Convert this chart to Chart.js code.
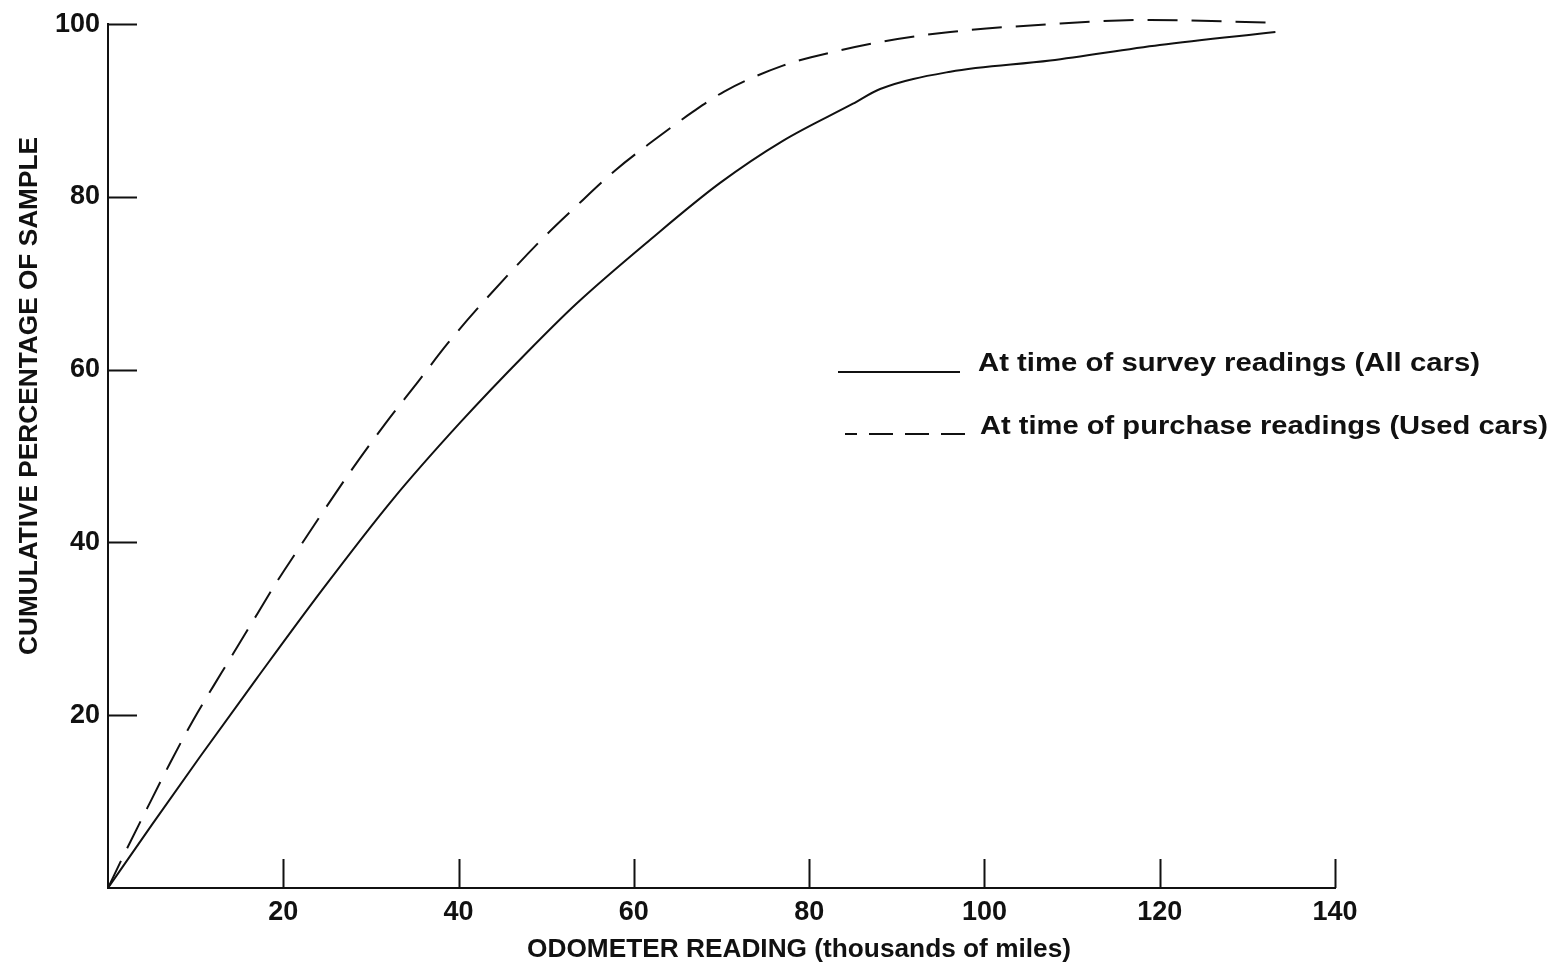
<!DOCTYPE html>
<html>
<head>
<meta charset="utf-8">
<script src="https://cdn.jsdelivr.net/npm/chart.js@4.4.0/dist/chart.umd.min.js"></script>
<style>
  html, body { margin: 0; padding: 0; background: #fff; }
  #wrap { width: 1559px; height: 968px; }
</style>
</head>
<body>
<div id="wrap"><canvas id="odoChart"></canvas></div>
<script>
// odometer reading, thousands of miles / cumulative percent
const surveyMiles = [0, 5, 10.5, 17, 24.5, 32.5, 40.2, 47.8, 53.5, 61.8, 69.8, 77.0, 85.0, 88.1, 96.1, 107.5, 120, 133.2];
const surveyPct   = [0, 7.3, 15.2, 24.3, 34.6, 45.0, 53.9, 62.0, 67.7, 75.0, 81.6, 86.5, 90.8, 92.5, 94.5, 95.8, 97.6, 99.1];

const purchaseMiles = [0, 1.7, 4.5, 7.1, 9.7, 13.0, 16.0, 19.3, 21.3, 24.5, 27.8, 31.6, 35.3, 38.8, 42.7, 49.6, 53.5, 57.9, 62.2, 66.8, 70.3, 77.0, 83.2, 88.4, 96.1, 107.5, 118.9, 132.2];
const purchasePct   = [0, 3.6, 9.3, 14.5, 19.4, 25.0, 30.0, 35.5, 38.6, 43.5, 48.4, 53.7, 58.5, 63.1, 67.7, 75.2, 79.0, 83.1, 86.5, 89.9, 92.2, 95.2, 96.9, 98.0, 99.1, 100.0, 100.5, 100.2];

const xTickValues = [20, 40, 60, 80, 100, 120, 140];
const yTickValues = [20, 40, 60, 80, 100];

const seriesLabels = ['At time of survey readings (All cars)', 'At time of purchase readings (Used cars)'];
const xTitle = 'ODOMETER READING (thousands of miles)';
const yTitle = 'CUMULATIVE PERCENTAGE OF SAMPLE';

const INK = '#111';
const FONT = '"Liberation Sans", Arial, sans-serif';

function pts(xs, ys) {
    return xs.map((x, i) => ({ x: x, y: ys[i] }));
}

// squeeze a string to the width it has in the scan
function fitText(ctx, text, x, y, width, size) {
    ctx.save();
    ctx.font = 'bold ' + size + 'px ' + FONT;
    ctx.textBaseline = 'middle';
    ctx.textAlign = 'left';
    const w = ctx.measureText(text).width;
    ctx.translate(x, y);
    ctx.scale(width / w, 1);
    ctx.fillText(text, 0, 0);
    ctx.restore();
}

// ticks in this figure point into the plot
const inwardTicks = {
    id: 'inwardTicks',
    afterDraw(chart) {
        const { ctx, scales: { x, y }, chartArea } = chart;
        ctx.save();
        ctx.strokeStyle = INK;
        ctx.lineWidth = 2;
        ctx.beginPath();
        xTickValues.forEach(v => {
            const px = Math.round(x.getPixelForValue(v)) + 0.5;
            ctx.moveTo(px, chartArea.bottom);
            ctx.lineTo(px, chartArea.bottom - 29);
        });
        yTickValues.forEach(v => {
            const py = Math.round(y.getPixelForValue(v)) + 0.5;
            ctx.moveTo(chartArea.left, py);
            ctx.lineTo(chartArea.left + 29, py);
        });
        ctx.stroke();
        ctx.restore();
    }
};

const annotations = {
    id: 'annotations',
    afterDraw(chart) {
        const ctx = chart.ctx;
        const ds = chart.data.datasets;
        ctx.save();
        ctx.fillStyle = INK;
        ctx.strokeStyle = INK;
        ctx.lineWidth = 2;

        // legend
        ctx.beginPath();
        ctx.setLineDash([]);
        ctx.moveTo(838, 372);
        ctx.lineTo(960, 372);
        ctx.stroke();
        ctx.beginPath();
        ctx.setLineDash([24, 12]);
        ctx.lineDashOffset = 12;
        ctx.moveTo(845, 434);
        ctx.lineTo(965, 434);
        ctx.stroke();
        ctx.setLineDash([]);
        fitText(ctx, ds[0].label, 978, 364, 502, 25);
        fitText(ctx, ds[1].label, 980, 427, 568, 25);

        // axis titles
        fitText(ctx, xTitle, 527, 950, 544, 25);
        ctx.save();
        ctx.translate(30, 655);
        ctx.rotate(-Math.PI / 2);
        fitText(ctx, yTitle, 0, 0, 518, 25);
        ctx.restore();

        ctx.restore();
    }
};

new Chart(document.getElementById('odoChart'), {
    type: 'scatter',
    data: {
        datasets: [
            {
                label: seriesLabels[0],
                data: pts(surveyMiles, surveyPct),
                showLine: true,
                borderColor: INK,
                borderWidth: 2,
                pointRadius: 0,
                cubicInterpolationMode: 'monotone',
                clip: 6
            },
            {
                label: seriesLabels[1],
                data: pts(purchaseMiles, purchasePct),
                showLine: true,
                borderColor: INK,
                borderWidth: 2,
                borderDash: [30, 14],
                pointRadius: 0,
                cubicInterpolationMode: 'monotone',
                clip: 6
            }
        ]
    },
    options: {
        responsive: true,
        maintainAspectRatio: false,
        animation: false,
        layout: { padding: { left: 0, right: 224, top: 20, bottom: 0 } },
        plugins: {
            legend: { display: false },
            tooltip: { enabled: false }
        },
        scales: {
            x: {
                type: 'linear',
                min: 0,
                max: 140,
                afterBuildTicks: s => { s.ticks = xTickValues.map(v => ({ value: v })); },
                afterFit: s => { s.height = 80; },
                grid: { display: false, drawTicks: false },
                border: { display: true, color: INK, width: 2 },
                ticks: { color: INK, padding: 8, maxRotation: 0, font: { family: FONT, size: 27, weight: 'bold' } }
            },
            y: {
                min: 0,
                max: 100,
                afterBuildTicks: s => { s.ticks = yTickValues.map(v => ({ value: v })); },
                afterFit: s => { s.width = 108; },
                grid: { display: false, drawTicks: false },
                border: { display: true, color: INK, width: 2 },
                ticks: { color: INK, padding: 8, font: { family: FONT, size: 27, weight: 'bold' } }
            }
        }
    },
    plugins: [inwardTicks, annotations]
});
</script>
</body>
</html>
